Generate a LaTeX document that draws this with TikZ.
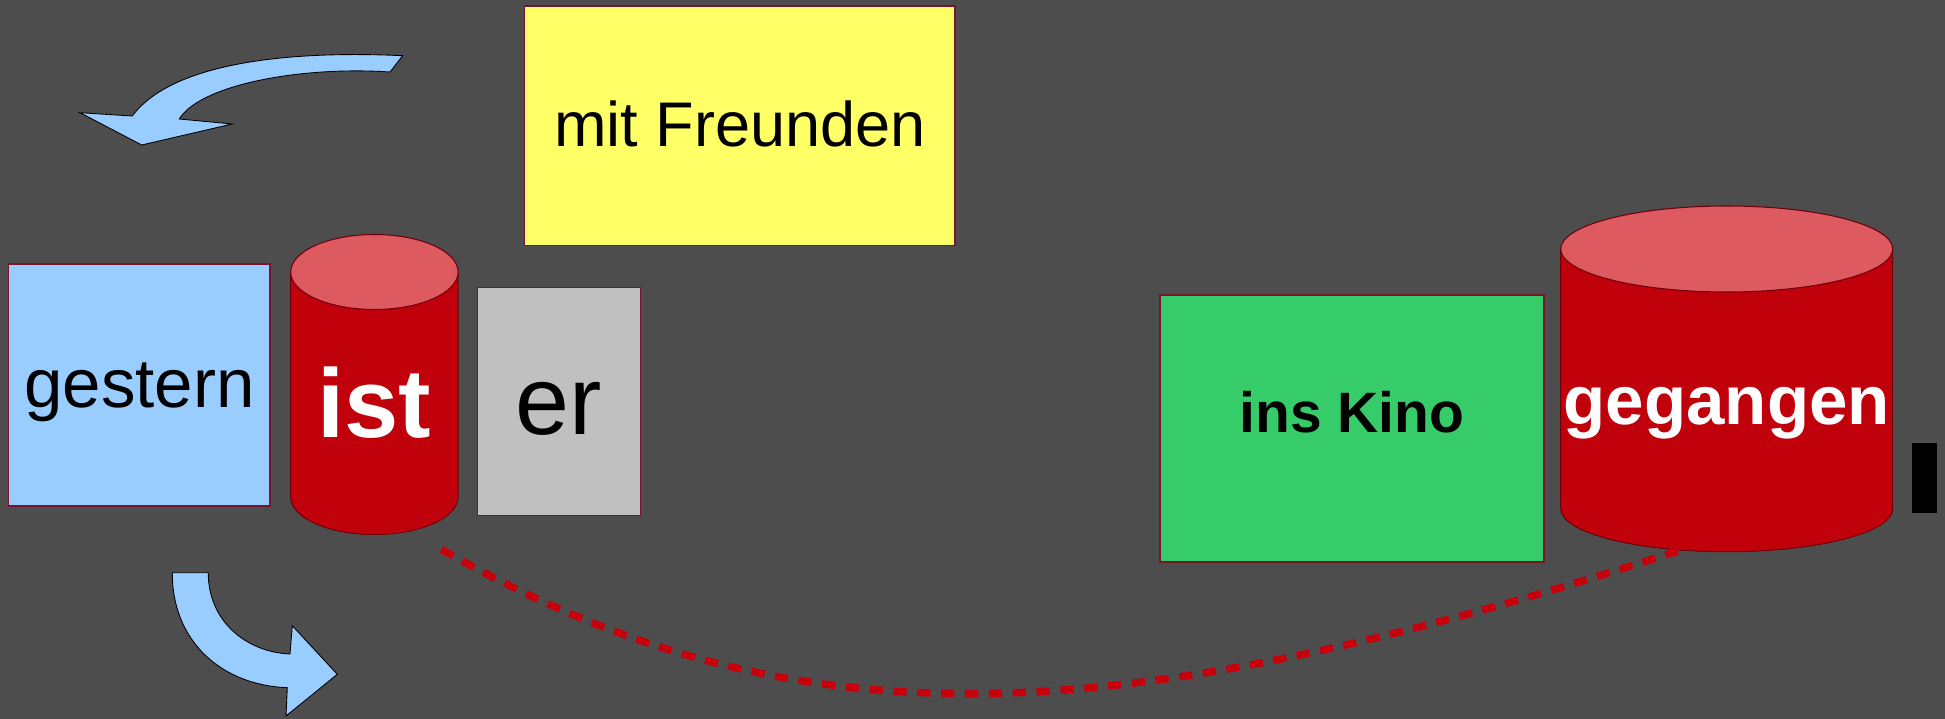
\documentclass[tikz,border=0pt]{standalone}
\usepackage{fontspec}
\setmainfont{Liberation Sans}

\definecolor{backdrop}{RGB}{77,77,77}
\definecolor{skyblue}{RGB}{153,204,255}
\definecolor{lemon}{RGB}{255,255,102}
\definecolor{ashgrey}{RGB}{192,192,192}
\definecolor{leaf}{RGB}{54,204,106}
\definecolor{boxline}{RGB}{120,20,45}
\definecolor{drumred}{RGB}{192,0,10}
\definecolor{drumlight}{RGB}{221,90,96}
\definecolor{drumline}{RGB}{110,0,10}
\definecolor{linkred}{RGB}{200,0,12}

\tikzset{
  wordbox/.style={draw=boxline, line width=0.8pt, inner sep=0pt, text depth=0pt},
  drumword/.style={inner sep=0pt, text depth=0pt, text=white},
  drumside/.style={fill=drumred, draw=drumline, line width=0.6pt},
  drumtop/.style={fill=drumlight, draw=drumline, line width=0.6pt},
  bentarrow/.style={fill=skyblue, draw=black, line width=0.5pt},
  link/.style={draw=linkred, line width=4.2pt, dash pattern=on 7.6pt off 6pt}
}

\begin{document}
\begin{tikzpicture}[x=0.02cm, y=-0.02cm]

    \fill[backdrop] (0,0) rectangle (1945,719);
    \useasboundingbox (0,0) rectangle (1945,719);

    % the two drums
    \filldraw[drumside] (290.7,272) -- (290.7,497) arc (180:0:83.7 and 37.5) -- (458.1,272) -- cycle;
    \filldraw[drumtop] (374.4,272) ellipse (83.7 and 37.5);

    \filldraw[drumside] (1560.7,249) -- (1560.7,508.7) arc (180:0:166 and 43) -- (1892.7,249) -- cycle;
    \filldraw[drumtop] (1726.7,249) ellipse (166 and 43);

    % words
    \node[wordbox, fill=skyblue, minimum width=5.23cm, minimum height=4.84cm, text height=0.92cm,
          font=\fontsize{39.3}{47}\selectfont] (gestern) at (139.4,385) {gestern};
    \node[drumword, minimum width=3.34cm, minimum height=6cm, text height=2.12cm,
          font=\fontsize{55.5}{64}\selectfont\bfseries] (ist) at (374.4,385) {ist};
    \node[wordbox, fill=ashgrey, minimum width=3.27cm, minimum height=4.55cm, text height=1.34cm,
          font=\fontsize{55.2}{64}\selectfont] (er) at (559,401.5) {er};
    \node[wordbox, fill=lemon, minimum width=8.61cm, minimum height=4.79cm, text height=0.83cm,
          font=\fontsize{35.9}{43}\selectfont] (freunde) at (739.9,125.9) {mit Freunden};
    \node[wordbox, fill=leaf, minimum width=7.68cm, minimum height=5.34cm, text height=0.15cm,
          font=\fontsize{32.4}{39}\selectfont\bfseries] (kino) at (1352,428.5) {ins Kino};
    \node[drumword, minimum width=6.64cm, minimum height=6.91cm, text height=1.84cm,
          font=\fontsize{39.3}{47}\selectfont\bfseries] (gegangen) at (1726.7,378.9) {gegangen};
    \node[fill=black, inner sep=0pt, minimum width=0.5cm, minimum height=1.41cm] (cursor) at (1924.8,478) {};

    % bent arrows
    \filldraw[bentarrow] (402.7,55.7) -- (390,72)
        .. controls (300,66) and (200,85) .. (179.3,119)
        -- (232.3,124) -- (141.7,145) -- (80,112.7) -- (132.3,116)
        .. controls (170,65) and (280,50) .. cycle;

    \filldraw[bentarrow] (172.3,572.7) -- (208.3,572.7)
        .. controls (208,620) and (245,652) .. (290,654)
        -- (292.3,625.7) -- (337.3,674.3) -- (286,716) -- (287.3,687.7)
        .. controls (220,685) and (172,640) .. cycle;

    % the bracket under the sentence
    \draw[link] ([shift={(67,14)}]ist.south) .. controls +(347.6,198.4) and +(-570.6,185.4) .. ([shift={(-46,-2)}]gegangen.south);

\end{tikzpicture}
\end{document}
